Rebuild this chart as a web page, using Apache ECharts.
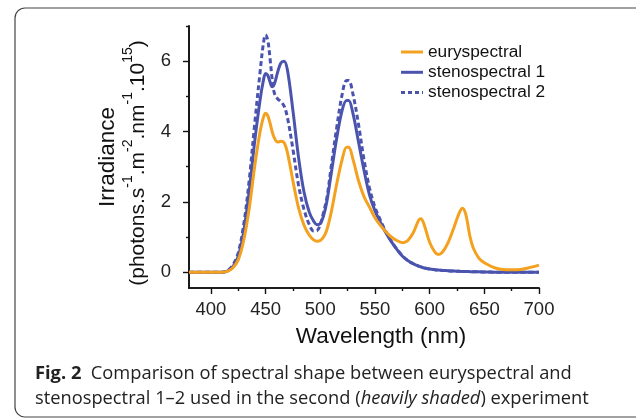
<!DOCTYPE html>
<html>
<head>
<meta charset="utf-8">
<script src="https://cdn.jsdelivr.net/npm/echarts@6/dist/echarts.min.js"></script>
<style>
html,body{margin:0;padding:0;background:#fff;}
#chart{width:636px;height:419px;}
</style>
</head>
<body>
<div id="chart"></div>
<script>
const wavelength = [380,400,410,415,420,425,430,435,440,445,448,450,452,454,456,458,461,464,467,470,475,480,485,490,494,497,500,503,506,510,515,520,524,526,530,535,540,545,550,555,560,565,570,575,580,585,590,592,595,600,605,608,612,617,622,627,630,633,637,640,645,650,660,670,680,690,700];
const euryspectral = [0,0,0,0.02,0.12,0.35,0.9,1.8,3.0,4.0,4.4,4.52,4.45,4.25,4.0,3.82,3.7,3.72,3.68,3.4,2.6,1.85,1.35,1.05,0.92,0.88,0.9,1.0,1.2,1.7,2.5,3.2,3.55,3.55,3.2,2.6,2.15,1.85,1.55,1.33,1.15,1.0,0.9,0.84,0.9,1.12,1.48,1.52,1.35,0.85,0.56,0.5,0.58,0.85,1.25,1.68,1.82,1.65,1.0,0.68,0.4,0.27,0.12,0.07,0.07,0.12,0.2];
const stenospectral1 = [0,0,0,0.03,0.15,0.45,1.15,2.3,3.7,4.9,5.45,5.65,5.6,5.42,5.27,5.35,5.68,5.95,6.0,5.75,4.6,3.3,2.3,1.7,1.45,1.35,1.38,1.6,2.0,2.8,3.8,4.6,4.88,4.88,4.5,3.7,2.9,2.2,1.75,1.42,1.12,0.87,0.65,0.46,0.33,0.24,0.17,0.15,0.12,0.09,0.07,0.06,0.05,0.04,0.03,0.025,0.02,0.02,0.015,0.01,0.01,0.005,0,0,0,0,0];
const stenospectral2 = [0,0,0,0.04,0.2,0.55,1.35,2.6,4.2,5.7,6.5,6.75,6.6,6.1,5.5,5.1,4.93,4.85,4.72,4.4,3.5,2.5,1.8,1.35,1.17,1.18,1.35,1.7,2.1,3.0,4.1,5.05,5.45,5.45,5.05,4.2,3.2,2.4,1.85,1.48,1.15,0.88,0.66,0.47,0.33,0.24,0.17,0.15,0.12,0.09,0.07,0.06,0.05,0.04,0.03,0.025,0.02,0.02,0.015,0.01,0.01,0.005,0,0,0,0,0];
const xMajorTicks = [400,450,500,550,600,650,700];
const xMinorTicks = [425,475,525,575,625,675];
const yMajorTicks = [0,2,4,6];
const yMinorTicks = [1,3,5,7];
const legendNames = ['euryspectral','stenospectral 1','stenospectral 2'];

const pairs = (ys) => wavelength.map((w,i)=>[w, ys[i]]);
const ORANGE = '#F3A11E';
const BLUE = '#4A54AE';
const FONT = "'Liberation Sans', Arial, sans-serif";
const CAP = "'Open Sans', 'Noto Sans', sans-serif";

const chart = echarts.init(document.getElementById('chart'), null, {renderer:'canvas'});
const axisBase = {
  axisLine:{show:true, onZero:false, lineStyle:{color:'#111', width:1.6}},
  splitLine:{show:false}
};
const legendStyles = [
  {color:ORANGE, dash:null},
  {color:BLUE, dash:null},
  {color:BLUE, dash:[4,3]}
];
const legendGraphics = [];
legendNames.forEach((n,i)=>{
  const y = 52 + i*20.3;
  legendGraphics.push({type:'line', shape:{x1:401, y1:y, x2:423, y2:y},
    style:{stroke:legendStyles[i].color, lineWidth:3, lineDash:legendStyles[i].dash}});
  legendGraphics.push({type:'text', x:428, y:y, style:{text:n, font:'17.3px '+FONT, fill:'#111', verticalAlign:'middle'}});
});

chart.setOption({
  animation:false,
  backgroundColor:'#fff',
  grid:{left:189, right:97, top:26, bottom:131, containLabel:false},
  xAxis:[
    Object.assign({}, axisBase, {
      type:'value', min:380, max:700, position:'bottom',
      axisTick:{show:true, length:6, lineStyle:{color:'#111', width:1.4}, customValues:xMajorTicks},
      axisLabel:{show:true, customValues:xMajorTicks, color:'#222', fontSize:18.5, fontFamily:FONT, margin:12}
    }),
    Object.assign({}, axisBase, {
      type:'value', min:380, max:700, position:'bottom',
      axisTick:{show:true, length:3, lineStyle:{color:'#111', width:1.4}, customValues:xMinorTicks},
      axisLabel:{show:false}
    })
  ],
  yAxis:[
    Object.assign({}, axisBase, {
      type:'value', min:-0.45, max:7, position:'left',
      axisTick:{show:true, length:6, lineStyle:{color:'#111', width:1.4}, customValues:yMajorTicks},
      axisLabel:{show:true, customValues:yMajorTicks, color:'#222', fontSize:18.5, fontFamily:FONT, margin:18}
    }),
    Object.assign({}, axisBase, {
      type:'value', min:-0.45, max:7, position:'left',
      axisTick:{show:true, length:3, lineStyle:{color:'#111', width:1.4}, customValues:yMinorTicks},
      axisLabel:{show:false}
    })
  ],
  series:[
    {name:'stenospectral 1', type:'line', data:pairs(stenospectral1), smooth:0.35, showSymbol:false, symbol:'none',
      lineStyle:{color:BLUE, width:3}, itemStyle:{color:BLUE}},
    {name:'stenospectral 2', type:'line', data:pairs(stenospectral2), smooth:0.35, showSymbol:false, symbol:'none',
      lineStyle:{color:BLUE, width:3, type:[5,3]}, itemStyle:{color:BLUE}},
    {name:'euryspectral', type:'line', data:pairs(euryspectral), smooth:0.35, showSymbol:false, symbol:'none',
      lineStyle:{color:ORANGE, width:3}, itemStyle:{color:ORANGE}}
  ],
  graphic:[
    {type:'rect', shape:{x:15, y:8, width:660, height:409, r:10}, style:{fill:'none', stroke:'#444', lineWidth:1.2}, z:-1},
    {type:'text', x:381, y:337, style:{text:'Wavelength (nm)', font:'22.5px '+FONT, fill:'#111', align:'center', verticalAlign:'middle'}},
    {type:'text', x:108, y:157, rotation:Math.PI/2, style:{text:'Irradiance', font:'22.5px '+FONT, fill:'#111', align:'center', verticalAlign:'middle'}},
    {type:'text', x:135, y:163, rotation:Math.PI/2, style:{
      text:'{m|(photons.s}{s|-1}{m|.m}{s|-2}{m|.nm}{s|-1}{m|.10}{s|15}{m|)}',
      align:'center', verticalAlign:'middle', fill:'#111',
      rich:{
        m:{fontSize:21, fontFamily:FONT, fill:'#111', lineHeight:27, verticalAlign:'bottom'},
        s:{fontSize:14, fontFamily:FONT, fill:'#111', lineHeight:27, verticalAlign:'top'}
      }}},
    {type:'text', x:35, y:374, style:{
      text:'{b|Fig. 2}{r|  Comparison of spectral shape between euryspectral and}',
      verticalAlign:'middle',
      rich:{
        b:{fontSize:18.3, fontWeight:'bold', fontFamily:CAP, fill:'#222'},
        r:{fontSize:18.3, fontFamily:CAP, fill:'#222'}
      }}},
    {type:'text', x:35, y:399, style:{
      text:'{r|stenospectral 1–2 used in the second (}{i|heavily shaded}{r|) experiment}',
      verticalAlign:'middle',
      rich:{
        i:{fontSize:18.3, fontStyle:'italic', fontFamily:CAP, fill:'#222'},
        r:{fontSize:18.3, fontFamily:CAP, fill:'#222'}
      }}}
  ].concat(legendGraphics)
});
</script>
</body>
</html>
